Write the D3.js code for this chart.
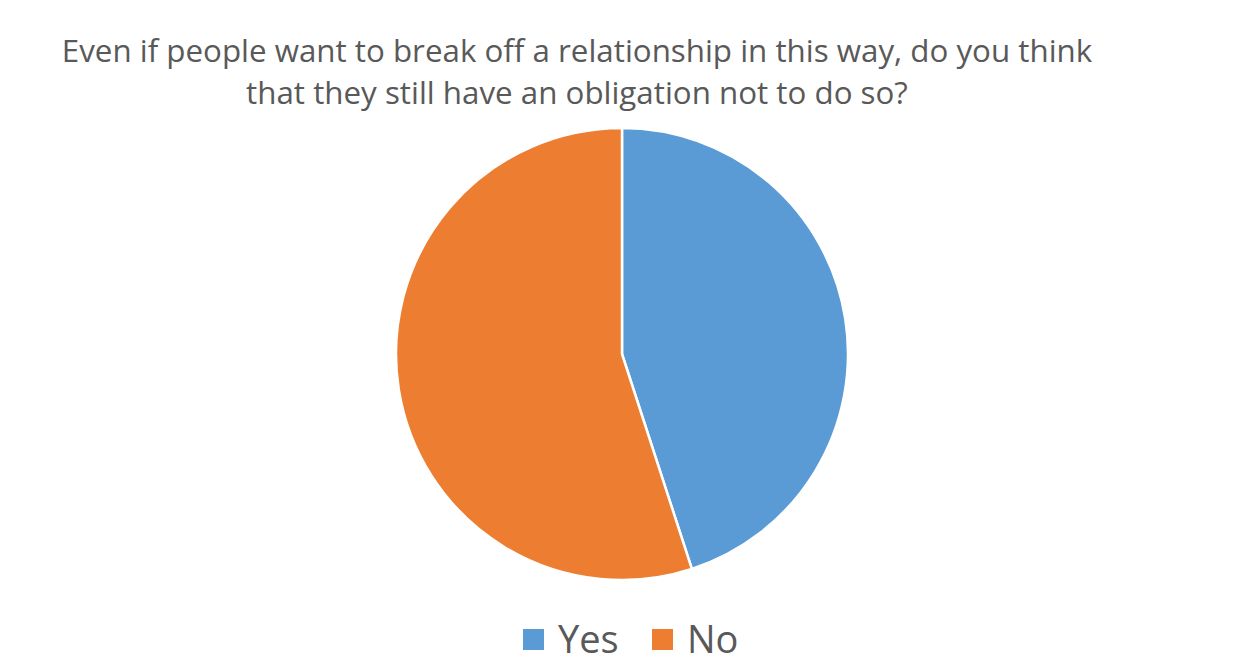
<!DOCTYPE html>
<html><head><meta charset="utf-8">
<script src="https://cdn.jsdelivr.net/npm/d3@7"></script>
<style>body{margin:0;background:#fff;}svg{display:block;}</style>
</head><body>
<svg id="chart" width="1251" height="670"></svg>
<script>
const categories = ["Yes", "No"];
const values = [45, 55];
const colors = ["#5B9BD5", "#ED7D31"];
const titleLines = ["Even if people want to break off a relationship in this way, do you think",
                    "that they still have an obligation not to do so?"];

const svg = d3.select("#chart");
const font = "'Open Sans', sans-serif";
const textColor = "#595959";

// Title
const title = svg.append("g");
const titleBaselines = [62, 104];
const titleT = title.selectAll("text").data(titleLines).join("text")
  .attr("x", 577).attr("y", (d,i)=>titleBaselines[i])
  .attr("text-anchor", "middle")
  .attr("font-family", font).attr("font-size", 27.5)
  .attr("fill", textColor).text(d=>d);
// fit first line width to 1031px
const w0 = titleT.nodes()[0].getComputedTextLength();
const fs = 27.5 * 1031 / w0;
titleT.attr("font-size", fs);

// Pie
const cx = 622, cy = 354, r = 226;
const pie = d3.pie().sort(null).value(d=>d)(values);
const arc = d3.arc().innerRadius(0).outerRadius(r);
svg.append("g").attr("transform", `translate(${cx},${cy})`)
  .selectAll("path").data(pie).join("path")
  .attr("d", arc)
  .attr("fill", (d,i)=>colors[i])
  .attr("stroke", "#fff").attr("stroke-width", 2.5).attr("stroke-linejoin", "round");

// Legend
const legend = svg.append("g");
const legendX = [523, 652];
const items = legend.selectAll("g").data(categories).join("g")
  .attr("transform", (d,i)=>`translate(${legendX[i]},629)`);
items.append("rect").attr("width", 21).attr("height", 21).attr("fill", (d,i)=>colors[i]);
items.append("text").attr("x", 35).attr("y", 24)
  .attr("font-family", font).attr("font-size", 38)
  .attr("fill", textColor).text(d=>d);
</script>
</body></html>
